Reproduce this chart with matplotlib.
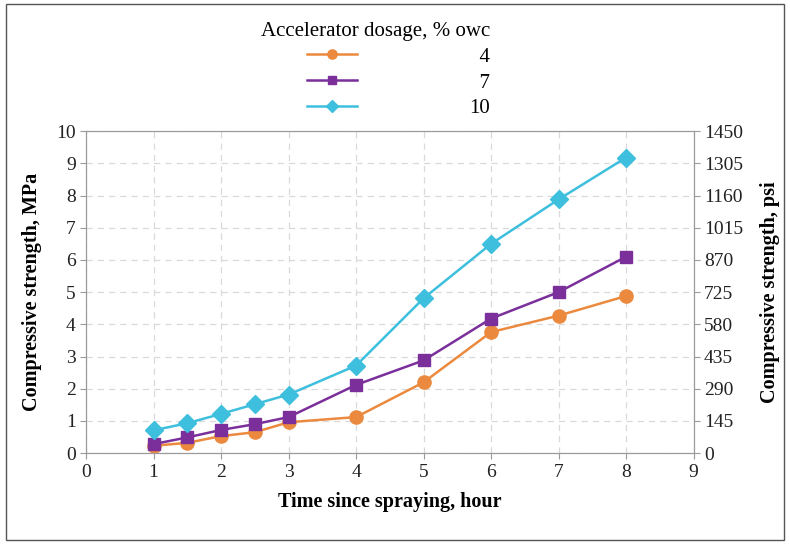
import matplotlib
matplotlib.use("Agg")
import matplotlib.pyplot as plt
from matplotlib.patches import Rectangle

plt.rcParams['font.family'] = ['Liberation Serif', 'DejaVu Serif']

time_h = [1, 1.5, 2, 2.5, 3, 4, 5, 6, 7, 8]
dose_labels = ['4', '7', '10']
strength_4 = [0.23, 0.32, 0.53, 0.65, 0.96, 1.12, 2.2, 3.76, 4.27, 4.88]
strength_7 = [0.28, 0.49, 0.72, 0.90, 1.12, 2.12, 2.88, 4.18, 5.0, 6.1]
strength_10 = [0.71, 0.93, 1.22, 1.52, 1.82, 2.72, 4.81, 6.5, 7.88, 9.18]
left_ticks = list(range(0, 11))
right_ticks = [0, 145, 290, 435, 580, 725, 870, 1015, 1160, 1305, 1450]
x_ticks = list(range(0, 10))

colors = ['#EB8A3E', '#7B2F9B', '#3DBFDD']
markers = ['o', 's', 'D']
msizes = [9.5, 8.5, 9]

fig = plt.figure(figsize=(7.9, 5.44), dpi=100)
ax = fig.add_axes([0.109, 0.167, 0.769, 0.592])

series = [strength_4, strength_7, strength_10]
handles = []
for s, c, m, ms, lab in zip(series, colors, markers, msizes, dose_labels):
    h, = ax.plot(time_h, s, color=c, marker=m, markersize=ms, linewidth=1.8,
                 markeredgecolor=c, label=lab, zorder=3)
    handles.append(h)

ax.set_xlim(0, 9)
ax.set_ylim(0, 10)
ax.set_xticks(x_ticks)
ax.set_yticks(left_ticks)
ax.grid(True, linestyle=(0, (5, 4)), color='#d9d9d9', linewidth=0.9)
for sp in ax.spines.values():
    sp.set_color('#9a9a9a')
ax.tick_params(axis='both', colors='#9a9a9a', labelcolor='#222222', labelsize=14, length=4)
ax.set_xlabel('Time since spraying, hour', fontsize=14.5, fontweight='bold', labelpad=8)
ax.set_ylabel('Compressive strength, MPa', fontsize=14.5, fontweight='bold', labelpad=10)

ax2 = ax.twinx()
ax2.set_ylim(0, 1450)
ax2.set_yticks(right_ticks)
ax2.tick_params(axis='y', colors='#9a9a9a', labelcolor='#222222', labelsize=14, length=4)
for sp in ax2.spines.values():
    sp.set_color('#9a9a9a')
ax2.set_ylabel('Compressive strength, psi', fontsize=14.5, fontweight='bold', labelpad=12)

pad_labels = ['\u2007' + l if len(l) == 1 else l for l in dose_labels]
leg = fig.legend(handles, pad_labels, title='Accelerator dosage, % owc',
                 loc='upper left', bbox_to_anchor=(0.320, 0.975), frameon=False,
                 fontsize=15, title_fontsize=15, alignment='right',
                 handlelength=2.4, handletextpad=5.4, labelspacing=0.3,
                 borderaxespad=0, markerscale=0.7)

fig.patches.append(Rectangle((0.007, 0.008), 0.986, 0.984, transform=fig.transFigure,
                             fill=False, edgecolor='#555555', linewidth=1.0))

fig.savefig('out.png', dpi=100)
